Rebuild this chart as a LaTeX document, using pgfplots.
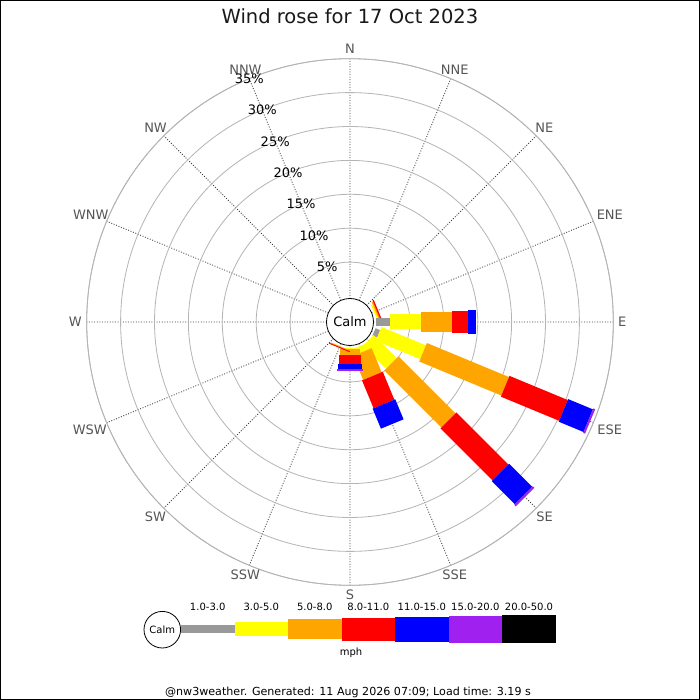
\documentclass[border=0pt]{standalone}
\usepackage{pgfplots}
\pgfplotsset{compat=1.18}
\usepgfplotslibrary{polar}
\usepackage{fontspec}
\setmainfont{DejaVu Sans}
\definecolor{cgray}{HTML}{999999}
\definecolor{cyel}{HTML}{FFFF00}
\definecolor{corange}{HTML}{FFA500}
\definecolor{cred}{HTML}{FF0000}
\definecolor{cblue}{HTML}{0000FF}
\definecolor{cpurple}{HTML}{A020F0}
\definecolor{ringcol}{HTML}{B4B4B4}
\definecolor{dircol}{HTML}{555555}
\newcommand\dirfont{\fontsize{13bp}{15bp}\selectfont}
\newcommand\smallf{\fontsize{10bp}{12bp}\selectfont}
% one stacked segment: colour, width, angle, from, to (percent)
\newcommand\seg[5]{\addplot[draw=#1, line width=#2, line cap=butt, forget plot] coordinates {(#3,#4) (#3,#5)};}
\begin{document}
\begin{tikzpicture}
\path[use as bounding box, fill=white] (0,0) rectangle (700bp,700bp);
\begin{polaraxis}[
  at={(350bp,378bp)}, anchor=center,
  width=526.6bp, height=526.6bp, scale only axis,
  xmin=0, xmax=360, ymin=0, ymax=38.835,
  xtick={0,22.5,45,67.5,90,112.5,135,157.5,180,202.5,225,247.5,270,292.5,315,337.5},
  ytick={8.835,13.835,18.835,23.835,28.835,33.835,38.835},
  xticklabels={}, yticklabels={},
  major tick length=0pt,
  xmajorgrids, ymajorgrids,
  x grid style={black!75, line width=0.8bp, dash pattern=on 1bp off 1.6bp},
  y grid style={ringcol, line width=0.8bp},
  axis line style={ringcol, line width=0.8bp},
  y axis line style={draw=none},
  clip=false,
  y filter/.expression={y+3.835},
]
% ENE
\seg{cyel}{15bp}{22.5}{0}{0.25}
\seg{corange}{20bp}{22.5}{0.25}{0.45}
\seg{cred}{22.5bp}{22.5}{0.45}{0.65}
% E
\seg{cgray}{8bp}{0}{0}{2.06}
\seg{cyel}{15bp}{0}{2.06}{6.6}
\seg{corange}{20bp}{0}{6.6}{11.16}
\seg{cred}{22.5bp}{0}{11.16}{13.6}
\seg{cblue}{24.5bp}{0}{13.6}{14.75}
% ESE
\seg{cgray}{8bp}{337.5}{0}{0.74}
\seg{cyel}{15bp}{337.5}{0.74}{7.83}
\seg{corange}{20bp}{337.5}{7.83}{20.94}
\seg{cred}{22.5bp}{337.5}{20.94}{30.24}
\seg{cblue}{24.5bp}{337.5}{30.24}{34.2}
\seg{cpurple}{26.5bp}{337.5}{34.2}{34.5}
% SE
\seg{cyel}{15bp}{315}{0}{4.82}
\seg{corange}{20bp}{315}{4.82}{16.7}
\seg{cred}{22.5bp}{315}{16.7}{27.55}
\seg{cblue}{24.5bp}{315}{27.55}{32.36}
\seg{cpurple}{26.5bp}{315}{32.36}{32.67}
% SSE
\seg{cyel}{15bp}{292.5}{0}{0.96}
\seg{corange}{20bp}{292.5}{0.96}{4.8}
\seg{cred}{22.5bp}{292.5}{4.8}{9.25}
\seg{cblue}{24.5bp}{292.5}{9.25}{12.45}
% S
\seg{cyel}{15bp}{270}{0}{0.1}
\seg{corange}{20bp}{270}{0.1}{1.03}
\seg{cred}{22.5bp}{270}{1.03}{2.4}
\seg{cblue}{24.5bp}{270}{2.4}{3.14}
\seg{cpurple}{26.5bp}{270}{3.14}{3.35}
% SSW
\seg{cyel}{15bp}{247.5}{0}{0.05}
\seg{corange}{20bp}{247.5}{0.05}{0.15}
\seg{cred}{22.5bp}{247.5}{0.15}{0.3}
% direction labels
\begin{scope}[every node/.style={dircol, font=\dirfont, inner sep=0pt}]
\node[anchor=270] at (axis cs:90,39.53) {N};
\node[anchor=247.5] at (axis cs:67.5,39.53) {NNE};
\node[anchor=225] at (axis cs:45,39.53) {NE};
\node[anchor=202.5] at (axis cs:22.5,39.53) {ENE};
\node[anchor=180] at (axis cs:0,39.53) {E};
\node[anchor=157.5] at (axis cs:337.5,39.53) {ESE};
\node[anchor=135] at (axis cs:315,39.53) {SE};
\node[anchor=112.5] at (axis cs:292.5,39.53) {SSE};
\node[anchor=90] at (axis cs:270,39.53) {S};
\node[anchor=67.5] at (axis cs:247.5,39.53) {SSW};
\node[anchor=45] at (axis cs:225,39.53) {SW};
\node[anchor=22.5] at (axis cs:202.5,39.53) {WSW};
\node[anchor=0] at (axis cs:180,39.53) {W};
\node[anchor=337.5] at (axis cs:157.5,39.53) {WNW};
\node[anchor=315] at (axis cs:135,39.53) {NW};
\node[anchor=292.5] at (axis cs:112.5,39.53) {NNW};
\end{scope}
% ring labels
\begin{scope}[every node/.style={black, font=\dirfont, inner sep=0pt}]
\node at (axis cs:112.5,8.835) {5\%};
\node at (axis cs:112.5,13.835) {10\%};
\node at (axis cs:112.5,18.835) {15\%};
\node at (axis cs:112.5,23.835) {20\%};
\node at (axis cs:112.5,28.835) {25\%};
\node at (axis cs:112.5,33.835) {30\%};
\node at (axis cs:112.5,38.835) {35\%};
\end{scope}
\node[circle, draw=black, fill=white, minimum size=47bp, inner sep=0pt, line width=0.8bp, font=\dirfont] at (axis cs:0,0) {Calm};
\end{polaraxis}
% title
\node[anchor=base, font=\fontsize{19.5bp}{22bp}\selectfont, text=black!90] at (350bp,676bp) {Wind rose for 17 Oct 2023};
% legend
\fill[cgray] (180.7bp,66.55bp) rectangle (234.7bp,74.85bp);
\fill[cyel] (234.7bp,63.55bp) rectangle (288bp,77.85bp);
\fill[corange] (288bp,60.55bp) rectangle (341.7bp,80.85bp);
\fill[cred] (341.7bp,59.2bp) rectangle (395bp,82.2bp);
\fill[cblue] (395bp,58.2bp) rectangle (448.7bp,83.2bp);
\fill[cpurple] (448.7bp,57.35bp) rectangle (502bp,84.05bp);
\fill[black] (502bp,56.55bp) rectangle (556bp,84.85bp);
\node[circle, draw=black, fill=white, minimum size=36.6bp, inner sep=0pt, line width=0.8bp, font=\smallf] at (162.3bp,70.3bp) {Calm};
\begin{scope}[every node/.style={anchor=base, font=\smallf, inner sep=0pt}]
\node at (207.7bp,89.3bp) {1.0-3.0};
\node at (261.3bp,89.3bp) {3.0-5.0};
\node at (314.8bp,89.3bp) {5.0-8.0};
\node at (368.3bp,89.3bp) {8.0-11.0};
\node at (421.8bp,89.3bp) {11.0-15.0};
\node at (475.3bp,89.3bp) {15.0-20.0};
\node at (529bp,89.3bp) {20.0-50.0};
\node at (351bp,44.3bp) {mph};
\node[font=\fontsize{11.1bp}{13bp}\selectfont] at (348bp,4.7bp) {@nw3weather. Generated: 11 Aug 2026 07:09; Load time: 3.19 s};
\end{scope}
\draw[black, line width=1bp] (0.5bp,0.5bp) rectangle (699.5bp,699.5bp);
\end{tikzpicture}
\end{document}
